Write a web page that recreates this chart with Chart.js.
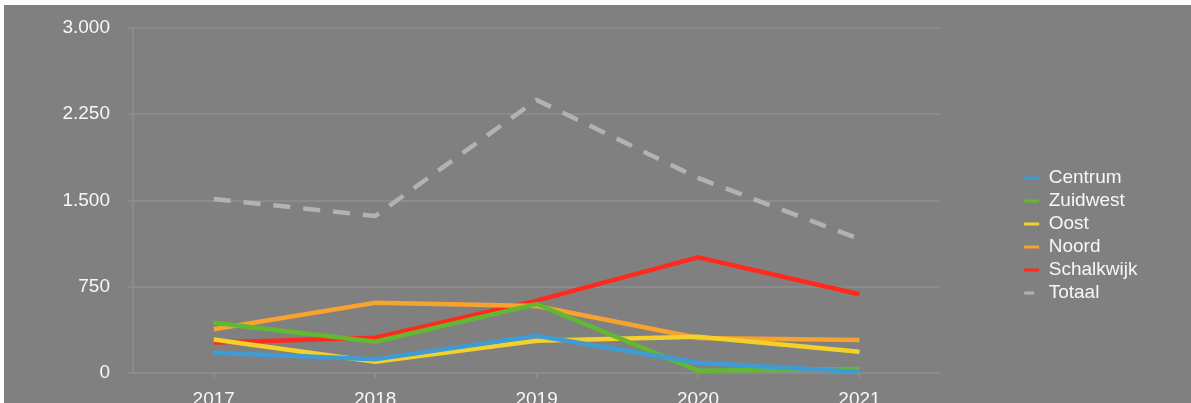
<!DOCTYPE html>
<html>
<head>
<meta charset="utf-8">
<script src="https://cdn.jsdelivr.net/npm/chart.js@4"></script>
<style>
  html, body { margin: 0; padding: 0; background: #ffffff; overflow: hidden; }
  #wrap { position: absolute; left: 4px; top: 5px; width: 1187px; height: 438px; background: #808080; }
</style>
</head>
<body>
<div id="wrap"><canvas id="chart"></canvas></div>
<script>
// -------------- data --------------
const years = ['2017', '2018', '2019', '2020', '2021'];
const centrum = [177, 119, 324, 90, 9];
const zuidwest = [437, 272, 600, 20, 35];
const oost = [292, 98, 281, 316, 185];
const noord = [380, 611, 583, 304, 287];
const schalkwijk = [265, 307, 629, 1005, 685];
const totaal = [1513, 1365, 2374, 1696, 1165];
const yTicks = [0, 750, 1500, 2250, 3000];

const textColor = '#f7f7f7';
const gridColor = '#8b8b8b';
const fontSpec = { family: "'Liberation Sans', Arial, sans-serif", size: 19 };

function line(label, data, color, dash) {
    return {
        label: label,
        data: data,
        borderColor: color,
        backgroundColor: color,
        borderWidth: 4.5,
        borderDash: dash || [],
        pointRadius: 0,
        tension: 0,
        pointStyle: 'line'
    };
}

const lineData = {
    labels: years,
    datasets: [
        line('Centrum', centrum, '#3f9bd3'),
        line('Zuidwest', zuidwest, '#63b832'),
        line('Oost', oost, '#f4d02a'),
        line('Noord', noord, '#f8a32e'),
        line('Schalkwijk', schalkwijk, '#ff291e'),
        line('Totaal', totaal, '#b2b2b2', [17, 13])
    ]
};

const lineOptions = {
    responsive: true,
    maintainAspectRatio: false,
    animation: false,
    layout: { padding: { top: 23, right: 43.6, bottom: 0, left: 0 } },
    scales: {
        x: {
            offset: true,
            grid: { drawOnChartArea: false, color: gridColor, tickLength: 5, lineWidth: 2 },
            border: { display: true, color: gridColor, width: 2 },
            ticks: { color: textColor, font: fontSpec, padding: 10 },
            afterFit: s => { s.height = 70; }
        },
        y: {
            min: 0,
            max: 3000,
            afterBuildTicks: s => { s.ticks = yTicks.map(v => ({ value: v })); },
            grid: { color: gridColor, tickLength: 5, lineWidth: 2 },
            border: { display: true, color: gridColor, width: 2 },
            ticks: {
                color: textColor,
                // small lineHeight so the label does not push the top of the plot down
                font: { family: fontSpec.family, size: fontSpec.size, lineHeight: 0.5 },
                padding: 18,
                callback: v => String(v).replace(/\B(?=(\d{3})+(?!\d))/g, '.')
            },
            afterFit: s => { s.width = 129; }
        },
        // empty axis on the right, only to keep the gap before the legend
        spacer: {
            position: 'right',
            display: true,
            grid: { display: false },
            border: { display: false },
            ticks: { display: false },
            afterFit: s => { s.width = 80; }
        }
    },
    plugins: {
        legend: {
            position: 'right',
            labels: {
                color: textColor,
                font: fontSpec,
                usePointStyle: true,
                pointStyleWidth: 15,
                boxHeight: 10,
                padding: 4,
                generateLabels: chart => {
                    const items = Chart.defaults.plugins.legend.labels.generateLabels(chart);
                    items.forEach(it => {
                        it.lineWidth = 3;
                        if (it.text === 'Totaal') it.lineDash = [10, 10];
                    });
                    return items;
                }
            }
        },
        tooltip: { enabled: false }
    }
};

new Chart(document.getElementById('chart'), {
    type: 'line',
    data: lineData,
    options: lineOptions
});
</script>
</body>
</html>
